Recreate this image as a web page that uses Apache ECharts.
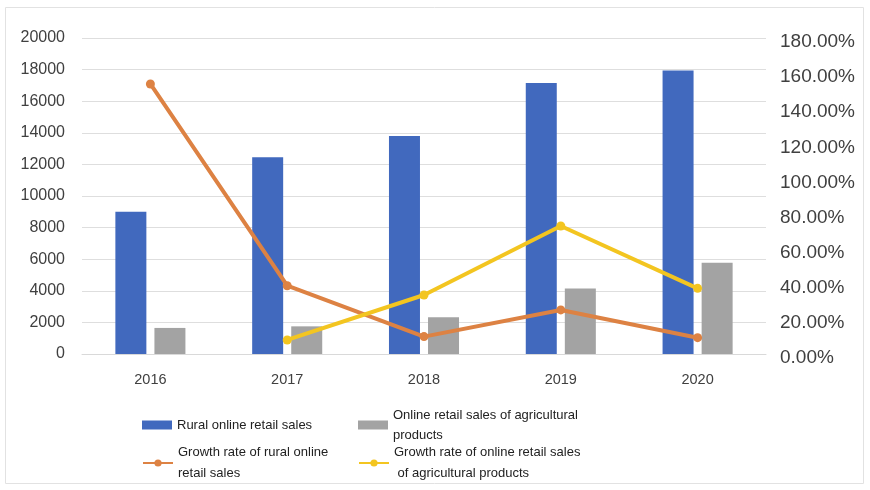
<!DOCTYPE html>
<html><head><meta charset="utf-8">
<script src="https://cdn.jsdelivr.net/npm/echarts@6/dist/echarts.min.js"></script>
<style>html,body{margin:0;padding:0;background:#fff}#c{width:870px;height:490px}</style>
</head><body><div id="c"></div>
<script>
const years = ['2016','2017','2018','2019','2020'];
const ruralSales = [9000, 12448, 13800, 17150, 17950];
const agriSales = [1650, 1750, 2320, 4150, 5780];
const ruralGrowth = [153.8, 38.9, 9.9, 25.1, 9.3];
const agriGrowth = [null, 8.0, 33.6, 72.9, 37.4];
const leftTicks = {min: 0, max: 20000, interval: 2000};
const rightTicks = {min: 0, max: 180, interval: 20};
const names = ['Rural online retail sales', 'Online retail sales of agricultural\nproducts', 'Growth rate of rural online\nretail sales', 'Growth rate of online retail sales\n of agricultural products'];

const chart = echarts.init(document.getElementById('c'));
const font = 'Arial, "Liberation Sans", sans-serif';
const legendBase = {itemWidth: 30, itemHeight: 9, padding: 0, itemGap: 0,
  textStyle: {fontSize: 13, color: '#222', fontFamily: font, lineHeight: 20}, selectedMode: false, orient: 'vertical'};
chart.setOption({
  animation: false,
  graphic: [{type: 'rect', shape: {x: 5.5, y: 7.5, width: 858, height: 476}, style: {fill: 'none', stroke: '#e2e2e2', lineWidth: 1}, silent: true}],
  grid: {left: 82, right: 104, top: 38, bottom: 136},
  legend: [
    Object.assign({}, legendBase, {left: 142, top: 415, data: [{name: names[0], icon: 'rect'}]}),
    Object.assign({}, legendBase, {left: 358, top: 405, data: [{name: names[1], icon: 'rect'}]}),
    Object.assign({}, legendBase, {left: 142, top: 442, textStyle: Object.assign({}, legendBase.textStyle, {lineHeight: 21}), data: [{name: names[2]}]}),
    Object.assign({}, legendBase, {left: 358, top: 442, textStyle: Object.assign({}, legendBase.textStyle, {lineHeight: 21}), data: [{name: names[3]}]})
  ],
  xAxis: {type: 'category', data: years, axisTick: {show: false},
    axisLine: {lineStyle: {color: '#d9d9d9'}},
    axisLabel: {fontSize: 14.5, color: '#404040', fontFamily: font, margin: 18}},
  yAxis: [
    {type: 'value', min: leftTicks.min, max: leftTicks.max, interval: leftTicks.interval,
      axisLabel: {fontSize: 16, color: '#404040', fontFamily: font, margin: 17, formatter: v => String(v)},
      splitLine: {lineStyle: {color: '#dedede'}}, axisLine: {show: false}, axisTick: {show: false}},
    {type: 'value', min: rightTicks.min, max: rightTicks.max, interval: rightTicks.interval,
      axisLabel: {color: '#404040', fontFamily: font, margin: 14,
        formatter: v => '{p|' + v.toFixed(2) + '%}',
        rich: {p: {fontSize: 19, color: '#404040', fontFamily: font, padding: [8, 0, 0, 0]}}},
      splitLine: {show: false}, axisLine: {show: false}, axisTick: {show: false}}
  ],
  series: [
    {name: names[0], type: 'bar', data: ruralSales, barWidth: 31, barGap: '26%', itemStyle: {color: '#4169BE'}},
    {name: names[1], type: 'bar', data: agriSales, barWidth: 31, itemStyle: {color: '#A3A3A3'}},
    {name: names[2], type: 'line', yAxisIndex: 1, data: ruralGrowth, symbol: 'circle', symbolSize: 9,
      lineStyle: {width: 4, color: '#DD8243'}, itemStyle: {color: '#DD8243'}},
    {name: names[3], type: 'line', yAxisIndex: 1, data: agriGrowth, symbol: 'circle', symbolSize: 9,
      lineStyle: {width: 4, color: '#F3C520'}, itemStyle: {color: '#F3C520'}}
  ]
});
</script></body></html>
